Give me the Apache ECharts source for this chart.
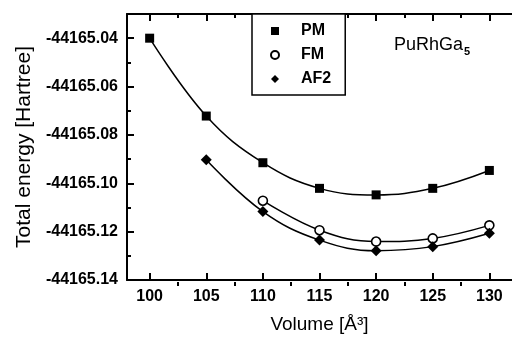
<!DOCTYPE html>
<html>
<head>
<meta charset="utf-8">
<script src="https://cdn.jsdelivr.net/npm/echarts@6/dist/echarts.min.js"></script>
<style>
html,body{margin:0;padding:0;background:#fff;}
#c{width:512px;height:339px;}
</style>
</head>
<body>
<div id="c"></div>
<script>
// ---- data ----
var volumes = [100, 105, 110, 115, 120, 125, 130];
var pmEnergy = [-44165.0400, -44165.0722, -44165.0915, -44165.1021, -44165.1048, -44165.1021, -44165.0947];
var fmVolumes = [110, 115, 120, 125, 130];
var fmEnergy = [-44165.1072, -44165.1194, -44165.1241, -44165.1228, -44165.1174];
var af2Volumes = [105, 110, 115, 120, 125, 130];
var af2Energy = [-44165.0903, -44165.1117, -44165.1235, -44165.1279, -44165.1262, -44165.1207];
var xMajorTicks = [100, 105, 110, 115, 120, 125, 130];
var xMinorTicks = [102.5, 107.5, 112.5, 117.5, 122.5, 127.5];
var seriesNames = ['PM', 'FM', 'AF2'];

function pairs(xs, ys) { return xs.map(function (x, i) { return [x, ys[i]]; }); }

var FONT = "'Liberation Sans', Arial, sans-serif";
var chart = echarts.init(document.getElementById('c'), null, {renderer: 'canvas'});

function xAxisDef(grid, pos, ticks, len, showLine, showLabel) {
  return {
    type: 'value', gridIndex: grid, position: pos, min: 98, max: 132,
    axisLine: {show: showLine, onZero: false, lineStyle: {color: '#000', width: 2}},
    axisTick: {show: true, inside: true, length: len, customValues: ticks, lineStyle: {color: '#000', width: 2}},
    axisLabel: {show: showLabel, customValues: ticks, color: '#000', fontFamily: FONT, fontWeight: 'bold', fontSize: 16, margin: 9},
    splitLine: {show: false}
  };
}

var bottomMain = xAxisDef(0, 'bottom', xMajorTicks, 7, true, true);
bottomMain.name = 'Volume [Å³]';
bottomMain.nameLocation = 'middle';
bottomMain.nameGap = 35;
bottomMain.nameTextStyle = {color: '#000', fontFamily: FONT, fontSize: 19};

var gridRect = {left: 127, right: -3, top: 14, bottom: 53, containLabel: false};

var option = {
  backgroundColor: '#fff',
  animation: false,
  grid: [Object.assign({}, gridRect), Object.assign({}, gridRect)],
  title: {
    text: '{a|PuRhGa}{b|5}', left: 389, top: 29,
    textStyle: {rich: {
      a: {fontFamily: FONT, fontSize: 18, color: '#000', fontWeight: 'normal'},
      b: {fontFamily: FONT, fontSize: 11, color: '#000', fontWeight: 'bold', padding: [12, 0, 0, 1]}
    }}
  },
  legend: {
    data: [
      {name: 'PM', itemStyle: {color: '#000'}},
      {name: 'FM', itemStyle: {color: '#fff', borderColor: '#000', borderWidth: 2}},
      {name: 'AF2', icon: 'diamond', itemStyle: {color: '#000'}}
    ],
    orient: 'vertical', left: 252, top: 14,
    padding: [9, 14, 8, 18], itemGap: 8, itemWidth: 8, itemHeight: 8,
    borderColor: '#000', borderWidth: 1.5, backgroundColor: '#fff',
    textStyle: {color: '#000', fontFamily: FONT, fontWeight: 'bold', fontSize: 16, lineHeight: 16, padding: [0, 0, 0, 17]}
  },
  xAxis: [
    bottomMain,
    xAxisDef(0, 'top', xMajorTicks, 7, true, false),
    xAxisDef(1, 'bottom', xMinorTicks, 4, false, false),
    xAxisDef(1, 'top', xMinorTicks, 4, false, false)
  ],
  yAxis: [{
    type: 'value', gridIndex: 0, min: -44165.14, max: -44165.03, interval: 0.02,
    name: 'Total energy [Hartree]', nameLocation: 'middle', nameGap: 92,
    nameTextStyle: {color: '#000', fontFamily: FONT, fontSize: 21},
    axisLine: {show: true, lineStyle: {color: '#000', width: 2}},
    axisTick: {inside: true, length: 7, lineStyle: {color: '#000', width: 2}},
    minorTick: {show: true, splitNumber: 2, length: 4, lineStyle: {color: '#000', width: 2}},
    axisLabel: {color: '#000', fontFamily: FONT, fontWeight: 'bold', fontSize: 16, margin: 9,
      showMaxLabel: false,
      formatter: function (v) { return v.toFixed(2); }},
    splitLine: {show: false}, minorSplitLine: {show: false}
  }, {
    type: 'value', gridIndex: 1, min: -44165.14, max: -44165.03, show: false
  }],
  series: [
    {name: 'PM fit', type: 'line', smooth: 0.4, showSymbol: false, data: pairs(volumes, pmEnergy),
      lineStyle: {color: '#000', width: 1.5}, z: 2},
    {name: 'FM fit', type: 'line', smooth: 0.4, showSymbol: false, data: pairs(fmVolumes, fmEnergy),
      lineStyle: {color: '#000', width: 1.5}, z: 2},
    {name: 'AF2 fit', type: 'line', smooth: 0.4, showSymbol: false, data: pairs(af2Volumes, af2Energy),
      lineStyle: {color: '#000', width: 1.5}, z: 2},
    {name: 'PM', type: 'scatter', symbol: 'rect', symbolSize: 9, data: pairs(volumes, pmEnergy),
      itemStyle: {color: '#000', opacity: 1}, z: 5},
    {name: 'FM', type: 'scatter', symbol: 'circle', symbolSize: 9, data: pairs(fmVolumes, fmEnergy),
      itemStyle: {color: '#fff', borderColor: '#000', borderWidth: 1.6, opacity: 1}, z: 5},
    {name: 'AF2', type: 'scatter', symbol: 'diamond', symbolSize: 11, data: pairs(af2Volumes, af2Energy),
      itemStyle: {color: '#000', opacity: 1}, z: 5}
  ]
};
chart.setOption(option);
</script>
</body>
</html>
